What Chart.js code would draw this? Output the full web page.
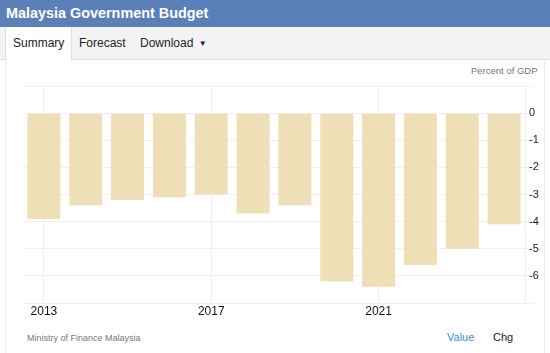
<!DOCTYPE html>
<html>
<head>
<meta charset="utf-8">
<script src="https://cdn.jsdelivr.net/npm/chart.js@4/dist/chart.umd.min.js"></script>
<style>
  html,body{margin:0;padding:0;width:550px;height:353px;overflow:hidden;background:#fff;font-family:"Liberation Sans",Arial,Helvetica,sans-serif;}
  #hdr{position:absolute;left:0;top:0;width:550px;height:27px;background:#5b80b9;}
  #hdr span{position:absolute;left:6px;top:5px;color:#fff;font-weight:bold;font-size:14.4px;}
  #tabs{position:absolute;left:0;top:27px;width:550px;height:32px;background:#f4f4f4;border-bottom:1px solid #e0e0e0;}
  .tab{position:absolute;font-size:12px;color:#222;}
  #sumtab{position:absolute;left:5px;top:27px;width:65px;height:33px;background:#fff;border-left:1px solid #ddd;border-right:1px solid #ddd;}
  #panel{position:absolute;left:5px;top:60px;width:538px;height:293px;border-left:1px solid #eee;border-right:1px solid #eee;}
  #unit{position:absolute;left:471px;top:65px;font-size:9.5px;color:#777;}
  #src{position:absolute;left:27px;top:333px;font-size:9px;color:#777;}
  #val{position:absolute;left:447px;top:331px;font-size:11px;color:#4a8bd6;}
  #chg{position:absolute;left:493px;top:331px;font-size:11px;color:#222;}
  #wrap{position:absolute;left:0;top:62px;width:550px;height:263px;}
</style>
</head>
<body>
<div id="hdr"><span>Malaysia Government Budget</span></div>
<div id="tabs"></div>
<div id="panel"></div>
<div id="sumtab"></div>
<div class="tab" style="left:13px;top:36px">Summary</div>
<div class="tab" style="left:79px;top:36px">Forecast</div>
<div class="tab" style="left:140px;top:36px">Download <span style="font-size:8px;position:relative;top:-1px;left:2px">&#9660;</span></div>
<div id="unit">Percent of GDP</div>
<div id="wrap"><canvas id="c" width="550" height="263"></canvas></div>
<div id="src">Ministry of Finance Malaysia</div>
<div id="val">Value</div>
<div id="chg">Chg</div>
<script>
const years = ["2013","2014","2015","2016","2017","2018","2019","2020","2021","2022","2023","2024"];
const budget = [-3.9, -3.4, -3.2, -3.1, -3.0, -3.7, -3.4, -6.2, -6.4, -5.6, -5.0, -4.1];
const yTicks = [0, -1, -2, -3, -4, -5, -6];
const shownYears = ["2013","2017","2021"];

new Chart(document.getElementById('c'), {
  type: 'bar',
  data: {
    labels: years,
    datasets: [{
      data: budget,
      backgroundColor: '#efdfb7',
      borderWidth: 0,
      barPercentage: 0.79,
      categoryPercentage: 1.0
    }]
  },
  options: {
    responsive: false,
    animation: false,
    events: [],
    layout: { padding: { left: 23, right: 0, top: 24, bottom: 0 } },
    plugins: { legend: { display: false }, tooltip: { enabled: false } },
    scales: {
      x: {
        offset: true,
        border: { display: true, color: '#eeeeee' },
        grid: {
          offset: false,
          drawTicks: false,
          color: ctx => (ctx.tick && shownYears.includes(years[ctx.index])) ? '#eeeeee' : 'rgba(0,0,0,0)'
        },
        ticks: {
          autoSkip: false,
          maxRotation: 0,
          padding: 1,
          color: '#111',
          font: { family: '"Liberation Sans", Arial, sans-serif', size: 12 },
          callback: function(v, i) { return shownYears.includes(years[i]) ? years[i] : ''; }
        },
        afterFit: s => { s.height = 22; }
      },
      y: {
        position: 'right',
        min: -7, max: 1,
        border: { display: true, color: '#eeeeee' },
        grid: { color: '#f0f0f0', tickLength: 9 },
        afterBuildTicks: s => { s.ticks = [1,0,-1,-2,-3,-4,-5,-6,-7].map(v => ({ value: v })); },
        ticks: {
          padding: -5,
          color: '#222',
          font: { family: '"Liberation Sans", Arial, sans-serif', size: 11 },
          callback: v => yTicks.includes(v) ? String(v) : ''
        },
        afterFit: s => { s.width = 25; }
      }
    }
  }
});
</script>
</body>
</html>
